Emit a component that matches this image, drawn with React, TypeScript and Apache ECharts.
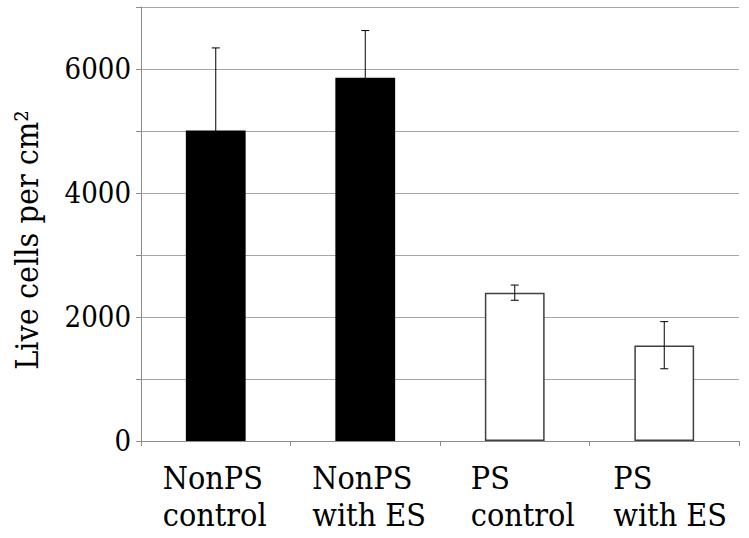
import React, { useEffect, useRef } from "react";
import * as echarts from "echarts";

const categories = ["NonPS\ncontrol", "NonPS\nwith ES", "PS\ncontrol", "PS\nwith ES"];
const values = [5010, 5860, 2390, 1540];
const errUpper = [6340, 6620, 2515, 1925];
const errLower = [3680, 5100, 2270, 1165];
const barFills = ["#000000", "#000000", "#ffffff", "#ffffff"];
const yTicks = [0, 2000, 4000, 6000];
const yTitle = "Live cells per cm²";

const FONT = "DejaVu Serif Condensed, DejaVu Serif";

export default function App() {
  const ref = useRef<HTMLDivElement>(null);
  useEffect(() => {
    if (!ref.current) return;
    const chart = echarts.init(ref.current, null, { renderer: "svg" });
    const labelWidths = [106, 106, 88, 102];
    const rich: any = {};
    labelWidths.forEach((w, i) => {
      rich["c" + i] = {
        width: w,
        align: "left",
        fontSize: 32,
        lineHeight: 37,
        fontFamily: FONT,
        color: "#000",
      };
    });
    chart.setOption({
      animation: false,
      backgroundColor: "#ffffff",
      textStyle: { fontFamily: FONT },
      grid: { left: 141, right: 10, top: 7, bottom: 97, containLabel: false, outerBoundsMode: "none" },
      xAxis: {
        type: "category",
        data: categories,
        axisLine: { lineStyle: { color: "#8c8c8c", width: 1 } },
        axisTick: { show: true, length: 5, alignWithLabel: false, lineStyle: { color: "#8c8c8c" } },
        axisLabel: {
          interval: 0,
          margin: 18,
          fontFamily: FONT,
          formatter: (v: string, i: number) =>
            v.split("\n").map((s) => `{c${i}|${s}}`).join("\n"),
          rich,
        },
      },
      yAxis: {
        type: "value",
        min: 0,
        max: 7000,
        interval: 1000,
        axisLine: { show: true, lineStyle: { color: "#8c8c8c", width: 1 } },
        axisTick: { show: true, length: 5, inside: false, lineStyle: { color: "#8c8c8c" } },
        axisLabel: {
          margin: 10,
          fontSize: 29,
          fontFamily: FONT,
          color: "#000",
          formatter: (v: number) => (yTicks.indexOf(v) >= 0 ? String(v) : ""),
        },
        splitLine: { show: true, lineStyle: { color: "#a6a6a6", width: 1 } },
      },
      graphic: [
        {
          type: "text",
          x: 27,
          y: 240,
          rotation: Math.PI / 2,
          style: {
            text: yTitle,
            fontSize: 32,
            fontFamily: FONT,
            fill: "#000",
            textAlign: "center",
            textVerticalAlign: "middle",
          },
        },
      ],
      series: [
        {
          type: "bar",
          barWidth: "40%",
          data: values.map((v, i) => ({
            value: v,
            itemStyle: {
              color: barFills[i],
              borderColor: i < 2 ? "#000" : "#404040",
              borderWidth: i < 2 ? 0 : 1.5,
            },
          })),
          z: 2,
        },
        {
          type: "custom",
          z: 5,
          data: values.map((_, i) => [i, errLower[i], errUpper[i]]),
          renderItem: (params: any, api: any) => {
            const idx = api.value(0);
            const lo = api.coord([idx, api.value(1)]);
            const hi = api.coord([idx, api.value(2)]);
            const hw = 4;
            const style = { stroke: "#000", lineWidth: 1 };
            return {
              type: "group",
              children: [
                { type: "line", shape: { x1: hi[0], y1: hi[1], x2: lo[0], y2: lo[1] }, style },
                { type: "line", shape: { x1: hi[0] - hw, y1: hi[1], x2: hi[0] + hw, y2: hi[1] }, style },
                { type: "line", shape: { x1: lo[0] - hw, y1: lo[1], x2: lo[0] + hw, y2: lo[1] }, style },
              ],
            };
          },
        },
      ],
    });
    return () => chart.dispose();
  }, []);
  return <div ref={ref} style={{ width: 749, height: 538, position: "absolute", left: 0, top: 0 }} />;
}
